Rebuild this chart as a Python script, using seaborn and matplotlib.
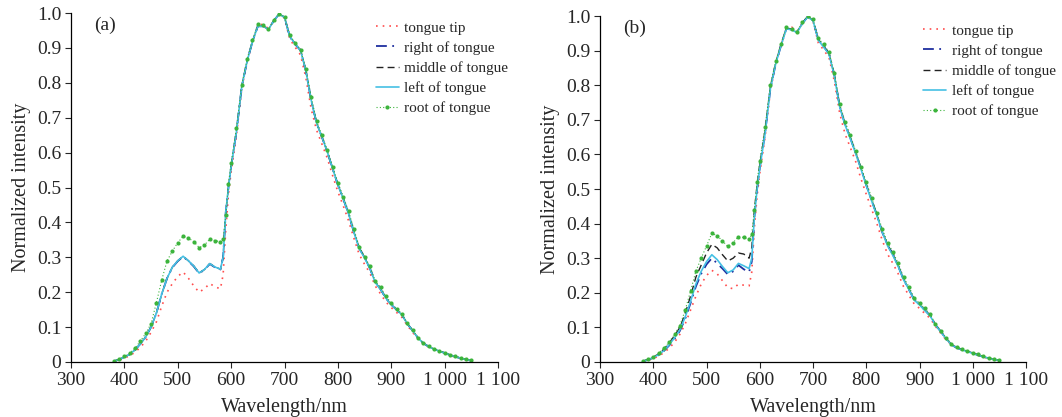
import matplotlib
matplotlib.use("Agg")
import matplotlib.pyplot as plt
import seaborn as sns

sns.set_style("ticks")
plt.rcParams['font.family'] = ['Liberation Serif', 'DejaVu Serif']

# wavelength grid (nm)
wl = [380, 390, 400, 410, 420, 430, 440, 450, 460, 470, 480, 490, 500, 510, 520, 530, 540, 550, 560, 570,
      580, 585, 590, 595, 600, 610, 620, 630, 640, 650, 660, 670, 680, 690, 700, 710, 720, 730, 740, 750,
      760, 770, 780, 790, 800, 810, 820, 830, 840, 850, 860, 870, 880, 890, 900, 910, 920, 930, 940, 950,
      960, 970, 980, 990, 1000, 1010, 1020, 1030, 1040, 1050]

# panel (a)
tip_a = [0.001, 0.005, 0.011, 0.018, 0.028, 0.042, 0.060, 0.085, 0.115, 0.160, 0.200, 0.225, 0.245, 0.258, 0.240, 0.218, 0.200, 0.210, 0.225, 0.215,
         0.210, 0.250, 0.380, 0.480, 0.545, 0.650, 0.785, 0.860, 0.918, 0.965, 0.968, 0.955, 0.978, 0.998, 0.985, 0.925, 0.902, 0.880, 0.815, 0.725,
         0.665, 0.625, 0.585, 0.535, 0.488, 0.448, 0.405, 0.355, 0.308, 0.280, 0.255, 0.218, 0.195, 0.172, 0.156, 0.142, 0.128, 0.105, 0.085, 0.066,
         0.052, 0.043, 0.036, 0.030, 0.025, 0.019, 0.014, 0.010, 0.007, 0.004]
right_a = [0.002, 0.007, 0.014, 0.022, 0.035, 0.052, 0.072, 0.100, 0.140, 0.195, 0.240, 0.271, 0.289, 0.302, 0.289, 0.274, 0.254, 0.264, 0.281, 0.271,
           0.265, 0.300, 0.430, 0.500, 0.560, 0.660, 0.790, 0.862, 0.918, 0.962, 0.962, 0.953, 0.978, 0.997, 0.988, 0.932, 0.910, 0.893, 0.835, 0.750,
           0.685, 0.645, 0.603, 0.555, 0.508, 0.468, 0.425, 0.372, 0.326, 0.300, 0.268, 0.230, 0.208, 0.183, 0.164, 0.150, 0.135, 0.110, 0.090, 0.069,
           0.054, 0.044, 0.037, 0.031, 0.026, 0.020, 0.015, 0.011, 0.007, 0.004]
middle_a = [0.002, 0.007, 0.014, 0.022, 0.035, 0.052, 0.072, 0.100, 0.140, 0.195, 0.240, 0.272, 0.290, 0.303, 0.290, 0.275, 0.255, 0.265, 0.282, 0.272,
            0.266, 0.300, 0.430, 0.500, 0.560, 0.660, 0.790, 0.862, 0.918, 0.962, 0.962, 0.953, 0.978, 0.997, 0.988, 0.932, 0.912, 0.895, 0.835, 0.750,
            0.685, 0.645, 0.603, 0.555, 0.508, 0.468, 0.425, 0.372, 0.327, 0.300, 0.268, 0.229, 0.208, 0.183, 0.164, 0.150, 0.135, 0.110, 0.090, 0.069,
            0.054, 0.044, 0.037, 0.031, 0.026, 0.020, 0.015, 0.011, 0.007, 0.004]
left_a = [0.002, 0.007, 0.014, 0.022, 0.035, 0.052, 0.072, 0.100, 0.140, 0.195, 0.240, 0.272, 0.290, 0.303, 0.290, 0.275, 0.255, 0.265, 0.282, 0.272,
          0.266, 0.300, 0.430, 0.500, 0.560, 0.660, 0.790, 0.862, 0.918, 0.962, 0.962, 0.953, 0.978, 0.997, 0.988, 0.932, 0.912, 0.893, 0.835, 0.750,
          0.685, 0.645, 0.603, 0.555, 0.508, 0.468, 0.425, 0.372, 0.325, 0.298, 0.268, 0.228, 0.208, 0.183, 0.164, 0.150, 0.135, 0.110, 0.090, 0.069,
          0.054, 0.044, 0.037, 0.031, 0.026, 0.020, 0.015, 0.011, 0.007, 0.004]
root_a = [0.003, 0.008, 0.016, 0.025, 0.040, 0.060, 0.082, 0.110, 0.170, 0.235, 0.290, 0.318, 0.342, 0.360, 0.355, 0.345, 0.328, 0.335, 0.352, 0.348,
          0.344, 0.352, 0.420, 0.510, 0.570, 0.670, 0.795, 0.868, 0.922, 0.968, 0.965, 0.953, 0.980, 0.998, 0.988, 0.936, 0.914, 0.895, 0.840, 0.760,
          0.690, 0.650, 0.608, 0.560, 0.514, 0.474, 0.432, 0.380, 0.330, 0.302, 0.274, 0.232, 0.214, 0.188, 0.169, 0.152, 0.138, 0.112, 0.092, 0.070,
          0.055, 0.045, 0.038, 0.032, 0.027, 0.021, 0.016, 0.012, 0.008, 0.005]

# panel (b)
tip_b = [0.001, 0.005, 0.010, 0.017, 0.027, 0.040, 0.057, 0.080, 0.110, 0.150, 0.190, 0.225, 0.250, 0.265, 0.255, 0.235, 0.215, 0.212, 0.225, 0.222,
         0.220, 0.260, 0.390, 0.480, 0.545, 0.650, 0.785, 0.860, 0.915, 0.965, 0.968, 0.955, 0.978, 0.998, 0.985, 0.922, 0.902, 0.880, 0.812, 0.720,
         0.660, 0.620, 0.580, 0.530, 0.485, 0.442, 0.400, 0.352, 0.312, 0.285, 0.255, 0.218, 0.193, 0.168, 0.155, 0.140, 0.126, 0.103, 0.083, 0.064,
         0.050, 0.041, 0.035, 0.030, 0.025, 0.019, 0.014, 0.010, 0.007, 0.004]
right_b = [0.002, 0.006, 0.012, 0.020, 0.032, 0.048, 0.067, 0.090, 0.125, 0.170, 0.218, 0.255, 0.282, 0.300, 0.285, 0.270, 0.253, 0.262, 0.280, 0.268,
           0.260, 0.290, 0.420, 0.500, 0.560, 0.662, 0.790, 0.862, 0.915, 0.964, 0.962, 0.953, 0.979, 0.998, 0.987, 0.932, 0.912, 0.892, 0.830, 0.740,
           0.688, 0.648, 0.605, 0.560, 0.512, 0.468, 0.425, 0.375, 0.338, 0.312, 0.278, 0.238, 0.210, 0.180, 0.166, 0.150, 0.134, 0.108, 0.088, 0.067,
           0.050, 0.041, 0.035, 0.030, 0.025, 0.020, 0.015, 0.011, 0.007, 0.005]
middle_b = [0.002, 0.007, 0.014, 0.023, 0.037, 0.055, 0.076, 0.100, 0.140, 0.190, 0.245, 0.280, 0.315, 0.340, 0.330, 0.310, 0.292, 0.300, 0.315, 0.312,
            0.300, 0.330, 0.440, 0.510, 0.570, 0.670, 0.795, 0.865, 0.918, 0.965, 0.960, 0.953, 0.980, 0.998, 0.988, 0.932, 0.912, 0.892, 0.830, 0.740,
            0.688, 0.648, 0.605, 0.560, 0.512, 0.468, 0.425, 0.378, 0.338, 0.310, 0.278, 0.240, 0.212, 0.180, 0.166, 0.150, 0.134, 0.108, 0.088, 0.068,
            0.051, 0.042, 0.036, 0.031, 0.026, 0.021, 0.016, 0.011, 0.008, 0.005]
left_b = [0.002, 0.006, 0.013, 0.021, 0.033, 0.050, 0.070, 0.093, 0.130, 0.175, 0.225, 0.262, 0.290, 0.310, 0.296, 0.276, 0.258, 0.266, 0.285, 0.278,
          0.270, 0.300, 0.420, 0.500, 0.560, 0.660, 0.790, 0.862, 0.915, 0.963, 0.960, 0.952, 0.978, 0.997, 0.987, 0.930, 0.910, 0.890, 0.828, 0.738,
          0.686, 0.646, 0.603, 0.558, 0.510, 0.466, 0.423, 0.376, 0.336, 0.308, 0.276, 0.238, 0.210, 0.179, 0.165, 0.149, 0.133, 0.107, 0.087, 0.067,
          0.050, 0.041, 0.035, 0.030, 0.025, 0.020, 0.015, 0.011, 0.007, 0.005]
root_b = [0.003, 0.008, 0.015, 0.025, 0.040, 0.058, 0.080, 0.105, 0.150, 0.205, 0.262, 0.300, 0.335, 0.372, 0.365, 0.350, 0.334, 0.345, 0.362, 0.360,
          0.355, 0.370, 0.440, 0.520, 0.580, 0.680, 0.800, 0.870, 0.920, 0.968, 0.962, 0.955, 0.982, 1.000, 0.990, 0.935, 0.918, 0.895, 0.835, 0.745,
          0.695, 0.655, 0.610, 0.565, 0.520, 0.475, 0.430, 0.385, 0.345, 0.318, 0.285, 0.245, 0.218, 0.185, 0.170, 0.155, 0.138, 0.110, 0.090, 0.070,
          0.052, 0.043, 0.037, 0.032, 0.027, 0.022, 0.017, 0.012, 0.009, 0.006]

labels = ['tongue tip', 'right of tongue', 'middle of tongue', 'left of tongue', 'root of tongue']
styles = [
    dict(color='#ff4d4d', linestyle=(0, (1, 3)), linewidth=1.2),
    dict(color='#1f2f9f', linestyle=(0, (6, 3, 1, 3)), linewidth=1.3),
    dict(color='#222222', linestyle=(0, (5, 3)), linewidth=1.0),
    dict(color='#45c0e4', linestyle='-', linewidth=1.2),
    dict(color='#3cb43c', linestyle=(0, (1, 2)), linewidth=0.8, marker='o', markersize=3.0, markeredgewidth=0),
]

panels = [
    ('(a)', [tip_a, right_a, middle_a, left_a, root_a], [71 / 1062, 1 - 362 / 417, 427 / 1062, 349 / 417], 0.70),
    ('(b)', [tip_b, right_b, middle_b, left_b, root_b], [600 / 1062, 1 - 362 / 417, 426 / 1062, 346 / 417], 0.745),
]

fig = plt.figure(figsize=(10.62, 4.17), dpi=100)
for tag, series, rect, lx in panels:
    ax = fig.add_axes(rect)
    for vals, lab, st in zip(series, labels, styles):
        sns.lineplot(x=wl, y=vals, ax=ax, label=lab, **st)
    ax.set_xlim(300, 1100)
    ax.set_ylim(0, 1.0)
    ax.set_xticks(range(300, 1101, 100))
    ax.set_xticklabels(['300', '400', '500', '600', '700', '800', '900', '1 000', '1 100'])
    ax.set_yticks([i / 10 for i in range(11)])
    ax.set_yticklabels(['0'] + ['%.1f' % (i / 10) for i in range(1, 11)])
    ax.tick_params(direction='out', length=4, width=0.8, labelsize=14, pad=3)
    ax.set_xlabel('Wavelength/nm', fontsize=14.5, labelpad=7)
    ax.set_ylabel('Normalized intensity', fontsize=14.5, labelpad=4)
    for s in ['top', 'right']:
        ax.spines[s].set_visible(False)
    for s in ['left', 'bottom']:
        ax.spines[s].set_color('black')
        ax.spines[s].set_linewidth(0.9)
    ax.text(0.055, 0.99, tag, transform=ax.transAxes, fontsize=14, va='top', ha='left')
    ax.legend(loc='upper left', bbox_to_anchor=(lx, 0.995), frameon=False, fontsize=11,
              handlelength=1.5, handletextpad=0.35, labelspacing=0.42, borderaxespad=0)

fig.savefig('out.png', dpi=100)
